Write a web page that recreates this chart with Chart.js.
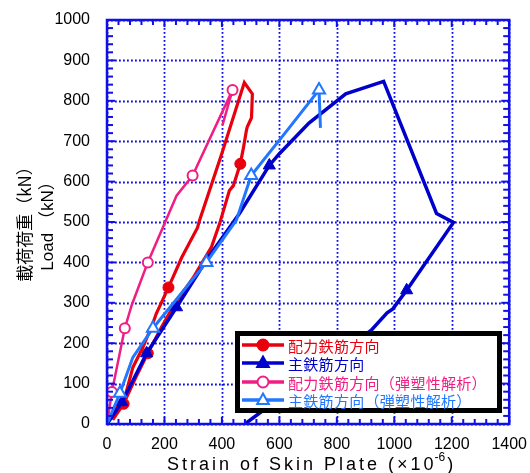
<!DOCTYPE html>
<html><head><meta charset="utf-8">
<script src="https://cdn.jsdelivr.net/npm/chart.js@4/dist/chart.umd.min.js"></script>
<style>html,body{margin:0;padding:0;background:#fff;}#wrap{width:530px;height:473px;position:relative;}</style>
</head><body><div id="wrap"><canvas id="c" width="530" height="473"></canvas></div>
<script>
// ---- data ----
const seriesNames = ['配力鉄筋方向', '主鉄筋方向', '配力鉄筋方向（弾塑性解析）', '主鉄筋方向（弾塑性解析）'];
const xAxisTicks = [0, 200, 400, 600, 800, 1000, 1200, 1400];
const yAxisTicks = [0, 100, 200, 300, 400, 500, 600, 700, 800, 900, 1000];

// 配力鉄筋方向 (experiment)
const redStrain = [0, 30, 58, 90, 125, 160, 172, 214, 260, 315, 322, 400, 478, 506, 503, 488, 485, 475, 464, 440, 426, 392, 363, 329, 300, 236, 190, 142, 100, 58, 20];
const redLoad   = [0, 40, 55, 140, 190, 250, 274, 338, 412, 486, 504, 670, 845, 817, 758, 735, 726, 684, 644, 590, 578, 496, 437, 397, 362, 298, 240, 175, 115, 50, 10];
const redMarks  = [7, 18, 27, 29];

// 主鉄筋方向 (experiment)
const blueStrain = [0, 52, 138, 242, 350, 461, 565, 600, 703, 831, 963, 1147, 1206, 1043, 995, 975, 920, 480];
const blueLoad   = [0, 54, 175, 289, 410, 521, 640, 669, 745, 817, 848, 521, 499, 331, 285, 275, 232, 0];
const blueMarks  = [1, 2, 3, 6, 13];

// 配力鉄筋方向（弾塑性解析）
const pinkStrain = [0, 17, 62, 86, 142, 242, 298, 437, 402];
const pinkLoad   = [0, 79, 237, 294, 400, 565, 615, 827, 740];
const pinkMarks  = [1, 2, 4, 6, 7];

// 主鉄筋方向（弾塑性解析）
const lbStrain = [0, 45, 90, 160, 346, 450, 502, 634, 738, 743];
const lbLoad   = [0, 76, 165, 237, 400, 504, 615, 733, 827, 733];
const lbMarks  = [1, 3, 4, 6, 8];

// ---- build ----
function pts(xs, ys){ return xs.map((x,i)=>({x:x, y:ys[i]})); }
function radii(n, marks, r){ const a = new Array(n).fill(0); marks.forEach(i=>a[i]=r); return a; }

const RED='#E8000E', BLUE='#0000CC', PINK='#F01E82', LBLUE='#2277FF';
const JP = '"Noto Sans CJK JP", "Liberation Sans", sans-serif';
const AR = '"Liberation Sans", Arial, sans-serif';

const datasets = [
  {label:seriesNames[0], data:pts(redStrain, redLoad), borderColor:RED, backgroundColor:RED, borderWidth:3.2,
   pointStyle:'circle', pointRadius:radii(redStrain.length, redMarks, 5.5), pointBorderWidth:1, pointBorderColor:RED, order:4},
  {label:seriesNames[1], data:pts(blueStrain, blueLoad), borderColor:BLUE, backgroundColor:BLUE, borderWidth:3.5,
   pointStyle:'triangle', pointRadius:radii(blueStrain.length, blueMarks, 7), pointBorderWidth:1, pointBorderColor:BLUE, order:3},
  {label:seriesNames[2], data:pts(pinkStrain, pinkLoad), borderColor:PINK, backgroundColor:'#fff', borderWidth:2.5,
   pointStyle:'circle', pointRadius:radii(pinkStrain.length, pinkMarks, 5), pointBorderWidth:2, pointBorderColor:PINK, order:2},
  {label:seriesNames[3], data:pts(lbStrain, lbLoad), borderColor:LBLUE, backgroundColor:'#fff', borderWidth:3,
   pointStyle:'triangle', pointRadius:radii(lbStrain.length, lbMarks, 7), pointBorderWidth:2, pointBorderColor:LBLUE, order:1}
];
datasets.forEach(d=>{ d.showLine=true; d.fill=false; d.tension=0; d.pointHoverRadius=d.pointRadius; });

const AXC = '#1010E6';
const framePlugin = {
  id:'frame',
  beforeDatasetsDraw(chart){
    const {ctx, chartArea:a, scales:{x, y}} = chart;
    ctx.save();
    ctx.strokeStyle = '#0A0AE8'; ctx.lineWidth = 1.8; ctx.setLineDash([1.8, 2.2]);
    xAxisTicks.forEach(v=>{ const px = Math.round(x.getPixelForValue(v))+0.5; ctx.beginPath(); ctx.moveTo(px, a.top); ctx.lineTo(px, a.bottom); ctx.stroke(); });
    yAxisTicks.forEach(v=>{ const py = Math.round(y.getPixelForValue(v))+0.5; ctx.beginPath(); ctx.moveTo(a.left, py); ctx.lineTo(a.right, py); ctx.stroke(); });
    ctx.restore();
  },
  afterDatasetsDraw(chart){
    const {ctx, chartArea:a, scales:{x, y}} = chart;
    ctx.save();
    ctx.strokeStyle = AXC; ctx.setLineDash([]);
    ctx.lineWidth = 2;
    for (let v = 0; v <= 1400; v += 40) {
      const px = x.getPixelForValue(v); const L = (v % 200 === 0) ? 7 : 5;
      ctx.beginPath(); ctx.moveTo(px, a.bottom); ctx.lineTo(px, a.bottom - L); ctx.stroke();
      ctx.beginPath(); ctx.moveTo(px, a.top); ctx.lineTo(px, a.top + L); ctx.stroke();
    }
    for (let v = 0; v <= 1000; v += 20) {
      const py = y.getPixelForValue(v); const L = (v % 100 === 0) ? 8 : 6;
      ctx.beginPath(); ctx.moveTo(a.left, py); ctx.lineTo(a.left + L, py); ctx.stroke();
      ctx.beginPath(); ctx.moveTo(a.right, py); ctx.lineTo(a.right - L, py); ctx.stroke();
    }
    ctx.lineWidth = 2.5;
    ctx.strokeRect(a.left, a.top, a.right - a.left, a.bottom - a.top);
    ctx.restore();
  },
  afterDraw(chart){
    const {ctx} = chart;
    ctx.save();
    ctx.fillStyle = '#000';
    ctx.font = '18px ' + AR;
    ctx.letterSpacing = '3px';
    ctx.textBaseline = 'alphabetic'; ctx.textAlign = 'left';
    const t1 = 'Strain of Skin Plate (×10';
    const w1 = ctx.measureText(t1).width;
    const sx = 167;
    ctx.fillText(t1, sx, 470);
    ctx.font = '12px ' + AR; ctx.letterSpacing = '0px';
    ctx.fillText('-6', sx + w1 - 2, 461);
    const w2 = ctx.measureText('-6').width;
    ctx.font = '18px ' + AR;
    ctx.fillText(')', sx + w1 - 1 + w2 + 1, 470);

    ctx.letterSpacing = '0px';
    ctx.save();
    ctx.translate(48, 222); ctx.rotate(-Math.PI/2);
    ctx.textAlign = 'center'; ctx.textBaseline = 'middle';
    ctx.font = '17px ' + AR + ', ' + JP;
    ctx.fillText('Load （kN）', 0, 0);
    ctx.restore();
    ctx.save();
    ctx.translate(25, 220); ctx.rotate(-Math.PI/2);
    ctx.textAlign = 'center'; ctx.textBaseline = 'middle';
    ctx.font = '17px ' + JP;
    ctx.fillText('載荷荷重（kN）', 0, 0);
    ctx.restore();

    // legend box
    const bx = 235, by = 331, bw = 267, bh = 82;
    ctx.fillStyle = '#fff'; ctx.fillRect(bx, by, bw, bh);
    ctx.strokeStyle = '#000'; ctx.lineWidth = 5;
    ctx.strokeRect(bx + 2.5, by + 2.5, bw - 5, bh - 5);
    const rows = [345, 363, 382, 400];
    chart.data.datasets.forEach((d, i)=>{
      const yy = rows[i];
      ctx.strokeStyle = d.borderColor; ctx.lineWidth = 3.5;
      ctx.beginPath(); ctx.moveTo(242, yy); ctx.lineTo(284, yy); ctx.stroke();
      ctx.fillStyle = d.backgroundColor; ctx.lineWidth = 2;
      const mx = 263, r = (d.pointStyle === 'triangle') ? 6.5 : 5.5;
      ctx.beginPath();
      if (d.pointStyle === 'triangle') {
        ctx.moveTo(mx, yy - r); ctx.lineTo(mx + r*0.9, yy + r*0.6); ctx.lineTo(mx - r*0.9, yy + r*0.6); ctx.closePath();
      } else { ctx.arc(mx, yy, r, 0, Math.PI*2); }
      ctx.fill(); ctx.stroke();
      ctx.fillStyle = d.borderColor;
      ctx.font = '15px ' + JP; ctx.textAlign = 'left'; ctx.textBaseline = 'middle';
      ctx.letterSpacing = '0.3px';
      ctx.fillText(d.label, 288, yy + 1);
      ctx.letterSpacing = '0px';
    });
    ctx.restore();
  }
};

new Chart(document.getElementById('c'), {
  type:'scatter',
  data:{datasets},
  options:{
    responsive:false, animation:false, devicePixelRatio:1,
    layout:{padding:{left:0, right:19, top:20, bottom:0}},
    plugins:{legend:{display:false}, tooltip:{enabled:false}},
    scales:{
      x:{type:'linear', min:0, max:1400, grid:{display:false}, border:{display:false},
         afterBuildTicks(s){ s.ticks = xAxisTicks.map(v=>({value:v})); },
         afterFit(s){ s.height = 49; },
         ticks:{autoSkip:false, maxRotation:0, color:'#000', padding:3, callback:(v)=>String(v),
                font:{family:'"Liberation Sans", Arial', size:16}}},
      y:{type:'linear', min:0, max:1000, grid:{display:false}, border:{display:false},
         afterBuildTicks(s){ s.ticks = yAxisTicks.map(v=>({value:v})); },
         afterFit(s){ s.width = 107; },
         ticks:{autoSkip:false, color:'#000', padding:9, callback:(v)=>String(v),
                font:{family:'"Liberation Sans", Arial', size:16}}}
    }
  },
  plugins:[framePlugin]
});
</script>
</body></html>
